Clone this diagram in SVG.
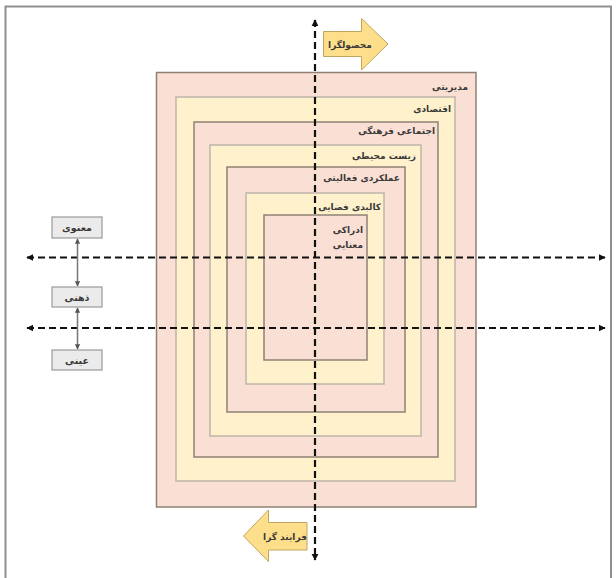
<svg xmlns="http://www.w3.org/2000/svg" width="616" height="578" viewBox="0 0 616 578">
<style>
.pink{fill:#FADFD4;stroke:#8E8174;stroke-width:1.5}
.yel{fill:#FEF1CC;stroke:#BDB6AA;stroke-width:1.5}
.lbl{font-family:"DejaVu Sans",sans-serif;font-size:9px;font-weight:bold;fill:#3a3a3a}
.nlbl{font-family:"DejaVu Sans",sans-serif;font-size:9.5px;font-weight:bold;fill:#3a3a3a}
.box{fill:#EBEBEB;stroke:#9A9A9A;stroke-width:1.2}
.dash{stroke:#111;stroke-width:2.2;stroke-dasharray:7 4;fill:none}
.conn{stroke:#777;stroke-width:1.5;fill:none}
.blk{fill:#FDDE8A;stroke:#BFA660;stroke-width:1}
</style>
<defs>
<marker id="ah" viewBox="0 0 10 10" refX="9" refY="5" markerWidth="3.2" markerHeight="3.2" orient="auto-start-reverse" markerUnits="strokeWidth">
<path d="M0,0 L10,5 L0,10 z" fill="#111"/>
</marker>
<marker id="ag" viewBox="0 0 10 10" refX="9" refY="5" markerWidth="3.5" markerHeight="3.5" orient="auto-start-reverse" markerUnits="strokeWidth">
<path d="M0,0 L10,5 L0,10 z" fill="#555"/>
</marker>
</defs>
<rect x="0" y="0" width="616" height="578" fill="#fff"/>
<rect x="5.5" y="6.5" width="605.5" height="585" fill="none" stroke="#8F8F8F" stroke-width="2"/>

<g id="layer-modiriyati"><rect class="pink" x="156.5" y="72.5" width="319.5" height="434.5" stroke="#A39A91"/><text class="lbl" x="468" y="90" text-anchor="end">مدیریتی</text></g>
<g id="layer-eghtesadi"><rect class="yel" x="176" y="97" width="279" height="384"/><text class="lbl" x="451" y="112" text-anchor="end">اقتصادی</text></g>
<g id="layer-ejtemai"><rect class="pink" x="194" y="122" width="244" height="335"/><text class="lbl" x="435" y="134" text-anchor="end">اجتماعی فرهنگی</text></g>
<g id="layer-zist"><rect class="yel" x="210" y="145" width="211" height="291"/><text class="lbl" x="416" y="159" text-anchor="end">زیست محیطی</text></g>
<g id="layer-amalkardi"><rect class="pink" x="227" y="167" width="178" height="245"/><text class="lbl" x="400" y="181" text-anchor="end">عملکردی فعالیتی</text></g>
<g id="layer-kalbadi"><rect class="yel" x="246" y="193" width="138" height="191"/><text class="lbl" x="381" y="210" text-anchor="end">کالبدی فضایی</text></g>
<g id="layer-edraki"><rect class="pink" x="264" y="215" width="103" height="145"/><text class="lbl" x="363" y="233" text-anchor="end">ادراکی</text><text class="lbl" x="363" y="248" text-anchor="end">معنایی</text></g>

<g id="arrow-mahsoolgera"><path class="blk" d="M323.5,31.5 H361.5 V18.5 L388,44 L361.5,70 V56.5 H323.5 Z"/><text class="lbl" x="350" y="47.5" text-anchor="middle" font-size="8">محصولگرا</text></g>
<g id="arrow-farayandgera"><path class="blk" d="M307,522.5 H268.5 V510 L243.5,536 L268.5,561.5 V550 H307 Z"/><text class="lbl" x="285" y="540" text-anchor="middle" font-size="8">فرایند گرا</text></g>

<g id="node-manavi"><rect class="box" x="52" y="217" width="50" height="21"/><text class="nlbl" x="77" y="231" text-anchor="middle">معنوی</text></g>
<g id="node-zehni"><rect class="box" x="52" y="287" width="50" height="20"/><text class="nlbl" x="77" y="301" text-anchor="middle">ذهنی</text></g>
<g id="node-eini"><rect class="box" x="52" y="350" width="50" height="20"/><text class="nlbl" x="77" y="364" text-anchor="middle">عینی</text></g>

<g id="connectors">
<line class="dash" x1="315" y1="20" x2="315" y2="560" marker-start="url(#ah)" marker-end="url(#ah)"/>
<line class="dash" x1="27" y1="257.5" x2="605" y2="257.5" marker-start="url(#ah)" marker-end="url(#ah)"/>
<line class="dash" x1="27" y1="328" x2="605" y2="328" marker-start="url(#ah)" marker-end="url(#ah)"/>
<line class="conn" x1="77.5" y1="239" x2="77.5" y2="286" marker-start="url(#ag)" marker-end="url(#ag)"/>
<line class="conn" x1="77.5" y1="308" x2="77.5" y2="349" marker-start="url(#ag)" marker-end="url(#ag)"/>
</g>
</svg>
